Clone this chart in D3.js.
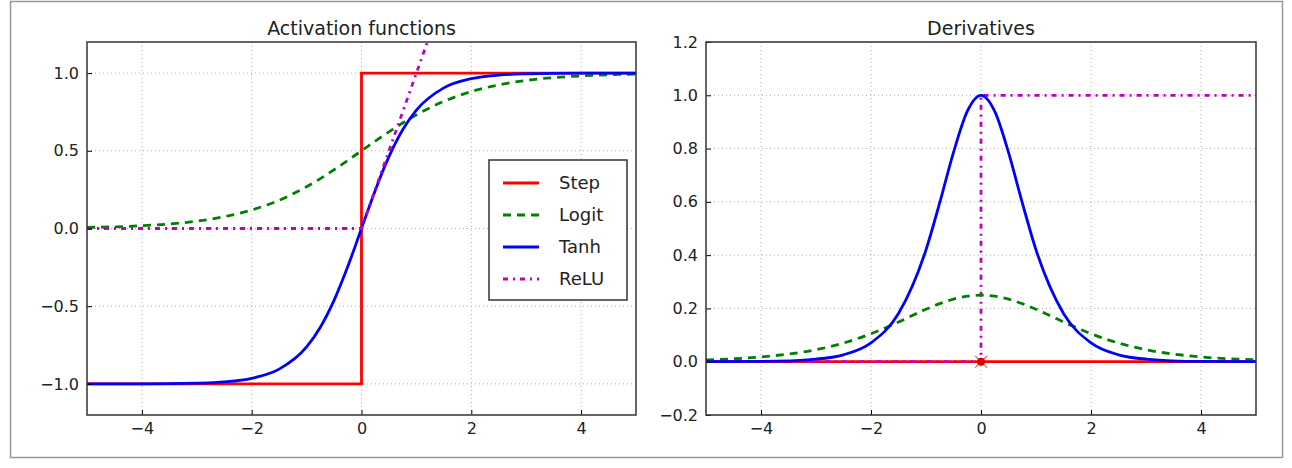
<!DOCTYPE html>
<html><head><meta charset="utf-8">
<script src="https://cdn.jsdelivr.net/npm/d3@7"></script>
<style>body{margin:0;background:#fff;font-family:"DejaVu Sans",sans-serif}</style>
</head><body>
<script>
// values
var xs = [-5,-4,-3,-2.5,-2,-1.5,-1,-0.75,-0.5,-0.25,0,0.25,0.5,0.75,1,1.5,2,2.5,3,4,5];
var logitVals = [.007,.018,.047,.076,.119,.182,.269,.321,.378,.438,.5,.562,.622,.679,.731,.818,.881,.924,.953,.982,.993];
var tanhVals = [-1,-1,-.995,-.987,-.964,-.905,-.762,-.635,-.462,-.245,0,.245,.462,.635,.762,.905,.964,.987,.995,1,1];
var logitDeriv = [.007,.018,.045,.070,.105,.149,.197,.218,.235,.246,.25,.246,.235,.218,.197,.149,.105,.070,.045,.018,.007];
var tanhDeriv = [0,.001,.01,.026,.071,.181,.42,.597,.786,.94,1,.94,.786,.597,.42,.181,.071,.026,.01,.001,0];
var stepPts = [[-5,-1],[0,-1],[0,1],[5,1]];
var reluPts = [[-5,0],[0,0],[1.3,1.3]];
var stepDerivPts = [[-5,0],[5,0]];
var reluDerivPts = [[-5,0],[0,0],[0,1],[5,1]];
var xTicks = [-4,-2,0,2,4];
var yTicksLeft = [-1.0,-0.5,0.0,0.5,1.0];
var yTicksRight = [-0.2,0.0,0.2,0.4,0.6,0.8,1.0,1.2];
var legendNames = ["Step","Logit","Tanh","ReLU"];

var svg = d3.select("body").append("svg").attr("width",1292).attr("height",468);
svg.append("rect").attr("x",10.5).attr("y",1.5).attr("width",1272).attr("height",456)
  .attr("fill","none").attr("stroke","#999").attr("stroke-width",1.5);

var styles = {
  Step:{c:"red",d:null},
  Logit:{c:"green",d:"8,6"},
  Tanh:{c:"blue",d:null},
  ReLU:{c:"#bf00bf",d:"5,5,2,5"}
};

function panel(x0, x1, yDomain, yTicks, fmt, title, series, defsId) {
  var x = d3.scaleLinear().domain([-5,5]).range([x0,x1]);
  var y = d3.scaleLinear().domain(yDomain).range([415,42]);
  var g = svg.append("g");
  g.append("clipPath").attr("id",defsId).append("rect")
    .attr("x",x0).attr("y",42).attr("width",x1-x0).attr("height",373);
  // grid
  g.selectAll(".gx").data(xTicks).enter().append("line")
    .attr("x1",d=>x(d)).attr("x2",d=>x(d)).attr("y1",42).attr("y2",415)
    .attr("stroke","#aaa").attr("stroke-dasharray","1,3");
  g.selectAll(".gy").data(yTicks).enter().append("line")
    .attr("y1",d=>y(d)).attr("y2",d=>y(d)).attr("x1",x0).attr("x2",x1)
    .attr("stroke","#aaa").attr("stroke-dasharray","1,3");
  var line = d3.line().x(d=>x(d[0])).y(d=>y(d[1]));
  var cl = g.append("g").attr("clip-path","url(#"+defsId+")");
  series.forEach(function(s){
    cl.append("path").datum(s.pts)
      .attr("d", line.curve(s.smooth ? d3.curveMonotoneX : d3.curveLinear))
      .attr("fill","none").attr("stroke",styles[s.name].c).attr("stroke-width",2.8)
      .attr("stroke-dasharray",styles[s.name].d);
  });
  // axes with inward ticks
  var ax = g.append("g").attr("transform","translate(0,415)")
    .call(d3.axisBottom(x).tickValues(xTicks).tickSizeInner(-5).tickSizeOuter(0).tickPadding(8)
      .tickFormat(d=>d<0?"\u2212"+(-d):d));
  var ay = g.append("g").attr("transform","translate("+x0+",0)")
    .call(d3.axisLeft(y).tickValues(yTicks).tickSizeInner(-5).tickSizeOuter(0).tickPadding(8)
      .tickFormat(d=>(d<0?"\u2212":"")+Math.abs(d).toFixed(fmt)));
  [ax,ay].forEach(a=>{a.select(".domain").remove();
    a.selectAll("text").attr("font-size",16).attr("fill","#222").attr("font-family","DejaVu Sans");});
  g.append("rect").attr("x",x0).attr("y",42).attr("width",x1-x0).attr("height",373)
    .attr("fill","none").attr("stroke","#333").attr("stroke-width",1.5);
  g.append("text").attr("x",(x0+x1)/2).attr("y",35).attr("text-anchor","middle")
    .attr("font-size",19).attr("fill","#222").text(title);
  return {x:x,y:y,g:g};
}

function zip(a,b){return a.map((v,i)=>[v,b[i]]);}

panel(87,636,[-1.2,1.2],yTicksLeft,1,"Activation functions",[
  {name:"Step",pts:stepPts},
  {name:"Logit",pts:zip(xs,logitVals),smooth:true},
  {name:"Tanh",pts:zip(xs,tanhVals),smooth:true},
  {name:"ReLU",pts:reluPts}
],"c1");

var r = panel(706,1256,[-0.2,1.2],yTicksRight,1,"Derivatives",[
  {name:"Step",pts:stepDerivPts},
  {name:"ReLU",pts:reluDerivPts},
  {name:"Logit",pts:zip(xs,logitDeriv),smooth:true},
  {name:"Tanh",pts:zip(xs,tanhDeriv),smooth:true}
],"c2");
// step derivative marker at 0
var mx = r.x(0), my = r.y(0);
r.g.append("circle").attr("cx",mx).attr("cy",my).attr("r",4).attr("fill","#c00");
r.g.append("path").attr("d","M"+(mx-6)+","+(my-6)+"L"+(mx+6)+","+(my+6)+"M"+(mx-6)+","+(my+6)+"L"+(mx+6)+","+(my-6))
  .attr("stroke","red").attr("stroke-width",1);

// legend
var lg = svg.append("g").attr("transform","translate(489,160)");
lg.append("rect").attr("width",138).attr("height",140).attr("fill","#fff")
  .attr("stroke","#333").attr("stroke-width",1.5);
legendNames.forEach(function(n,i){
  var yy = 23 + i*32;
  lg.append("line").attr("x1",14).attr("x2",50).attr("y1",yy).attr("y2",yy)
    .attr("stroke",styles[n].c).attr("stroke-width",2.8).attr("stroke-dasharray",styles[n].d);
  lg.append("text").attr("x",70).attr("y",yy+6).attr("font-size",18).attr("fill","#222").text(n);
});
</script>
</body></html>
